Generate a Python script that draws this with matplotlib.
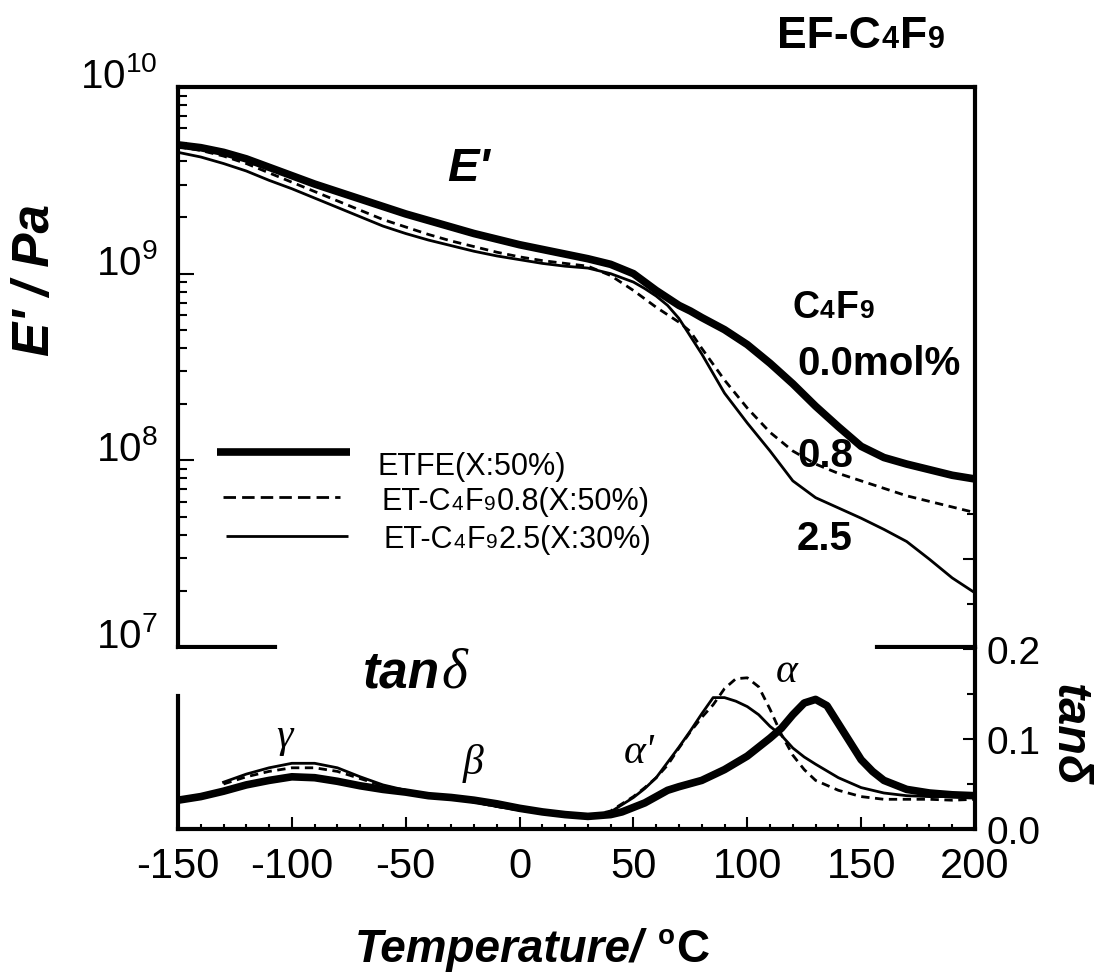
import numpy as np
import matplotlib
matplotlib.use("Agg")
import matplotlib.pyplot as plt
from matplotlib.lines import Line2D
from matplotlib.ticker import FixedLocator, NullFormatter, LogLocator, MultipleLocator

plt.rcParams['font.family'] = ['Liberation Sans', 'DejaVu Sans']
plt.rcParams['mathtext.fontset'] = 'custom'
plt.rcParams['mathtext.rm'] = 'Liberation Sans'
plt.rcParams['mathtext.it'] = 'Liberation Sans:italic'
plt.rcParams['mathtext.bf'] = 'Liberation Sans:bold'

# ---------------- storage modulus E' (log10 Pa) ----------------
temperature = [-150, -140, -130, -120, -110, -100, -90, -80, -70, -60, -50, -40,
               -30, -20, -10, 0, 10, 20, 30, 40, 50, 55, 60, 65, 70, 75, 80, 90, 100,
               110, 120, 130, 140, 150, 160, 170, 180, 190, 200]
log_E_etfe = [9.69, 9.675, 9.65, 9.615, 9.57, 9.525, 9.48, 9.44, 9.40, 9.36, 9.32, 9.285,
              9.25, 9.215, 9.185, 9.155, 9.13, 9.105, 9.08, 9.05, 9.00, 8.955, 8.91, 8.87,
              8.83, 8.80, 8.765, 8.70, 8.62, 8.52, 8.41, 8.29, 8.18, 8.075, 8.015, 7.98,
              7.95, 7.92, 7.90]
log_E_c4f9_08 = [9.68, 9.66, 9.63, 9.59, 9.54, 9.49, 9.44, 9.39, 9.34, 9.29, 9.25, 9.21,
                 9.175, 9.145, 9.115, 9.09, 9.07, 9.055, 9.04, 8.99, 8.91, 8.865, 8.82,
                 8.78, 8.74, 8.69, 8.60, 8.43, 8.28, 8.15, 8.05, 7.98, 7.93, 7.89, 7.85,
                 7.81, 7.78, 7.75, 7.72]
log_E_c4f9_25 = [9.65, 9.625, 9.59, 9.55, 9.50, 9.455, 9.405, 9.355, 9.305, 9.255, 9.215,
                 9.18, 9.15, 9.12, 9.095, 9.075, 9.055, 9.04, 9.03, 9.00, 8.955, 8.92,
                 8.88, 8.83, 8.76, 8.665, 8.57, 8.36, 8.20, 8.05, 7.89, 7.80, 7.745, 7.69,
                 7.63, 7.565, 7.47, 7.37, 7.29]

# ---------------- loss tangent ----------------
temp_tan_etfe = [-150, -140, -130, -120, -110, -100, -90, -80, -70, -60, -50, -40, -30,
                 -20, -10, 0, 10, 20, 30, 40, 45, 50, 55, 60, 65, 70, 80, 90, 100, 110,
                 115, 120, 125, 130, 135, 140, 145, 150, 155, 160, 170, 180, 190, 200]
tan_etfe = [0.032, 0.036, 0.042, 0.049, 0.054, 0.058, 0.057, 0.053, 0.048, 0.044, 0.041,
            0.037, 0.035, 0.032, 0.028, 0.023, 0.019, 0.016, 0.014, 0.016, 0.019, 0.024,
            0.029, 0.036, 0.043, 0.047, 0.054, 0.066, 0.081, 0.101, 0.112, 0.127, 0.140,
            0.144, 0.137, 0.117, 0.097, 0.077, 0.064, 0.054, 0.044, 0.040, 0.038, 0.037]

temp_tan = [-130, -120, -110, -100, -90, -80, -70, -60, -50, -40, -30, -20, -10,
            0, 10, 20, 30, 40, 45, 50, 55, 60, 65, 70, 75, 80, 85, 90, 95, 100, 105,
            110, 115, 120, 125, 130, 140, 150, 160, 170, 180, 190, 200]
tan_c4f9_08 = [0.050, 0.058, 0.064, 0.068, 0.068, 0.064, 0.056, 0.048, 0.043, 0.038, 0.034,
               0.030, 0.025, 0.021, 0.018, 0.015, 0.014, 0.020, 0.028, 0.036, 0.046, 0.057,
               0.071, 0.090, 0.108, 0.124, 0.138, 0.156, 0.167, 0.168, 0.158, 0.133, 0.105,
               0.082, 0.066, 0.054, 0.043, 0.036, 0.033, 0.033, 0.033, 0.032, 0.033]
tan_c4f9_25 = [0.052, 0.061, 0.068, 0.073, 0.073, 0.068, 0.058, 0.049, 0.043, 0.038, 0.034,
               0.030, 0.025, 0.021, 0.018, 0.015, 0.014, 0.019, 0.027, 0.035, 0.045, 0.057,
               0.074, 0.091, 0.109, 0.128, 0.146, 0.146, 0.142, 0.136, 0.127, 0.114, 0.104,
               0.090, 0.080, 0.072, 0.057, 0.046, 0.040, 0.037, 0.036, 0.036, 0.036]

x_ticks = [-150, -100, -50, 0, 50, 100, 150, 200]
E_ticks = [1e7, 1e8, 1e9, 1e10]
E_tick_labels = [r'$\mathregular{10^{7}}$', r'$\mathregular{10^{8}}$',
                 r'$\mathregular{10^{9}}$', r'$\mathregular{10^{10}}$']
tan_ticks = [0.0, 0.1, 0.2]
tan_tick_labels = ['0.0', '0.1', '0.2']

W_PX, H_PX = 1111, 978
fig = plt.figure(figsize=(W_PX / 100, H_PX / 100), dpi=100)


def fx(px):
    return px / W_PX


def fy(py):
    return 1 - py / H_PX


THICK = dict(color='black', lw=5.5, solid_capstyle='round', solid_joinstyle='round')
DASHED = dict(color='black', lw=2.0, dashes=(3, 2))
THIN = dict(color='black', lw=2.0, solid_joinstyle='round')
SPINE_W = 3.0

# ---------------- upper panel: E' ----------------
ax_e = fig.add_axes([fx(178), fy(648), fx(975) - fx(178), fy(88) - fy(648)])
ax_e.plot(temperature, 10 ** np.array(log_E_etfe), **THICK)
ax_e.plot(temperature, 10 ** np.array(log_E_c4f9_08), **DASHED)
ax_e.plot(temperature, 10 ** np.array(log_E_c4f9_25), **THIN)
ax_e.set_xlim(-150, 200)
ax_e.set_yscale('log')
ax_e.set_ylim(1e7, 1e10)
for s in ax_e.spines.values():
    s.set_linewidth(SPINE_W)
ax_e.spines['bottom'].set_visible(False)
ax_e.tick_params(axis='x', which='both', bottom=False, top=False, labelbottom=False)
ax_e.set_yticks(E_ticks)
ax_e.set_yticklabels(E_tick_labels)
ax_e.yaxis.set_minor_locator(LogLocator(base=10, subs=np.arange(2, 10), numticks=20))
ax_e.yaxis.set_minor_formatter(NullFormatter())
ax_e.tick_params(axis='y', which='major', direction='in', length=11.5, width=1.5,
                 labelsize=29, pad=15, right=False)
ax_e.tick_params(axis='y', which='minor', direction='in', length=6.5, width=1.5, right=False)
for lab in ax_e.get_yticklabels():
    lab.set_verticalalignment('baseline')

# broken bottom frame of the upper panel
for a, b in [(0.0, 0.122), (0.877, 1.0)]:
    ax_e.plot([a, b], [0, 0], transform=ax_e.transAxes, color='black', lw=SPINE_W,
              clip_on=False, solid_capstyle='projecting')

# right-hand tanδ scale continues up the frame
ax_r = ax_e.twinx()
ax_r.set_ylim((830 - 648) / 900, (830 - 88) / 900)
ax_r.yaxis.set_major_locator(FixedLocator([0.3]))
ax_r.yaxis.set_minor_locator(FixedLocator([0.25, 0.35]))
ax_r.yaxis.set_major_formatter(NullFormatter())
ax_r.tick_params(axis='y', which='major', direction='in', length=8.6, width=1.5)
ax_r.tick_params(axis='y', which='minor', direction='in', length=5.8, width=1.5)
for s in ax_r.spines.values():
    s.set_visible(False)

# ---------------- lower panel: tanδ ----------------
ax_t = fig.add_axes([fx(178), fy(830), fx(975) - fx(178), fy(650) - fy(830)])
ax_t.plot(temp_tan_etfe, tan_etfe, **THICK)
ax_t.plot(temp_tan, tan_c4f9_08, **DASHED)
ax_t.plot(temp_tan, tan_c4f9_25, **THIN)
ax_t.set_xlim(-150, 200)
ax_t.set_ylim(0, 0.2)
for s in ax_t.spines.values():
    s.set_linewidth(SPINE_W)
ax_t.spines['top'].set_visible(False)
ax_t.spines['left'].set_bounds(0, 0.148)
ax_t.yaxis.tick_right()
ax_t.set_yticks(tan_ticks)
ax_t.set_yticklabels(tan_tick_labels)
ax_t.yaxis.set_minor_locator(FixedLocator([0.05, 0.15]))
ax_t.tick_params(axis='y', which='major', direction='in', length=8.6, width=1.5,
                 labelsize=28, pad=8, left=False, right=True)
ax_t.tick_params(axis='y', which='minor', direction='in', length=5.8, width=1.5,
                 left=False, right=True)
for lab in ax_t.get_yticklabels():
    lab.set_verticalalignment('center_baseline')
ax_t.set_xticks(x_ticks)
ax_t.set_xticklabels([str(v) for v in x_ticks])
ax_t.xaxis.set_minor_locator(MultipleLocator(10))
ax_t.tick_params(axis='x', which='major', direction='in', length=8.6, width=1.5,
                 labelsize=30, pad=12, top=False)
ax_t.tick_params(axis='x', which='minor', direction='in', length=3.6, width=1.5, top=False)

# ---------------- text helpers ----------------
renderer = fig.canvas.get_renderer()


def rich_text(x_px, y_px, pieces, ha='left'):
    """Draw a run of differently sized pieces on one baseline (pixel coords from top-left)."""
    items = []
    x = x_px
    for text, kw, dy in pieces:
        t = fig.text(fx(x), fy(y_px - dy), text, va='baseline', ha='left', **kw)
        bb = t.get_window_extent(renderer)
        items.append(t)
        x = bb.x1 + 1
    if ha == 'center':
        shift = (x - x_px) / 2
        for t in items:
            t.set_x(t.get_position()[0] - shift / W_PX)
    return items


def chem(big, weight, big_size, small_size, tail=''):
    kb = dict(fontsize=big_size, fontweight=weight)
    ks = dict(fontsize=small_size, fontweight=weight)
    pieces = [(big[0], kb, 0), ('4', ks, 0), (big[1], kb, 0), ('9', ks, 0)]
    if tail:
        pieces.append((tail, kb, 0))
    return pieces


BI = dict(fontweight='bold', fontstyle='italic')
GREEK = dict(family='Liberation Serif', fontstyle='italic', fontsize=30,
             ha='center', va='center')

# title
rich_text(777, 48, chem(('EF-C', 'F'), 'bold', 32, 22))
# E' panel label
fig.text(fx(447), fy(181), "E'", fontsize=34, va='baseline', ha='left', **BI)
# composition labels
rich_text(792, 318, chem(('C', 'F'), 'bold', 27, 19))
fig.text(fx(797), fy(375), '0.0mol%', fontsize=29, fontweight='bold', va='baseline')
fig.text(fx(797), fy(467), '0.8', fontsize=29, fontweight='bold', va='baseline')
fig.text(fx(797), fy(550), '2.5', fontsize=29, fontweight='bold', va='baseline')

# legend
legend_rows = [
    (217, 350, 453, THICK, [('ETFE(X:50%)', dict(fontsize=22), 0)], 378, 475),
    (223, 340, 498, dict(color='black', lw=2.0, dashes=(4.5, 2.2)),
     chem(('ET-C', 'F'), 'normal', 22, 15, '0.8(X:50%)'), 381, 510),
    (226, 348, 537, THIN, chem(('ET-C', 'F'), 'normal', 22, 15, '2.5(X:30%)'), 383, 548),
]
for x0, x1, yl, style, pieces, tx, ty in legend_rows:
    fig.add_artist(Line2D([fx(x0), fx(x1)], [fy(yl), fy(yl)], transform=fig.transFigure,
                          **{**style, 'solid_capstyle': 'butt'}))
    rich_text(tx, ty, pieces)

# tanδ panel labels
rich_text(363, 688, [('tan', dict(fontsize=37, **BI), 0),
                     ('δ', dict(fontsize=40, family='Liberation Serif', fontstyle='italic'), 0)])
fig.text(fx(284), fy(737), 'γ', **GREEK)
fig.text(fx(473), fy(764), 'β', **GREEK)
fig.text(fx(639), fy(753), "α'", **GREEK)
fig.text(fx(787), fy(672), 'α', **GREEK)

# axis titles
fig.text(fx(35), fy(280), "E' / Pa", rotation=90, ha='center', va='center', fontsize=37, **BI)
fig.text(fx(1068), fy(735), 'tanδ', rotation=-90, ha='center', va='center', fontsize=35, **BI)
rich_text(532, 962, [('Temperature/', dict(fontsize=33, **BI), 0),
                     (' ', dict(fontsize=33), 0),
                     ('o', dict(fontsize=20, fontweight='bold'), 18),
                     ('C', dict(fontsize=33, fontweight='bold'), 0)], ha='center')

fig.savefig('out.png', dpi=100)
